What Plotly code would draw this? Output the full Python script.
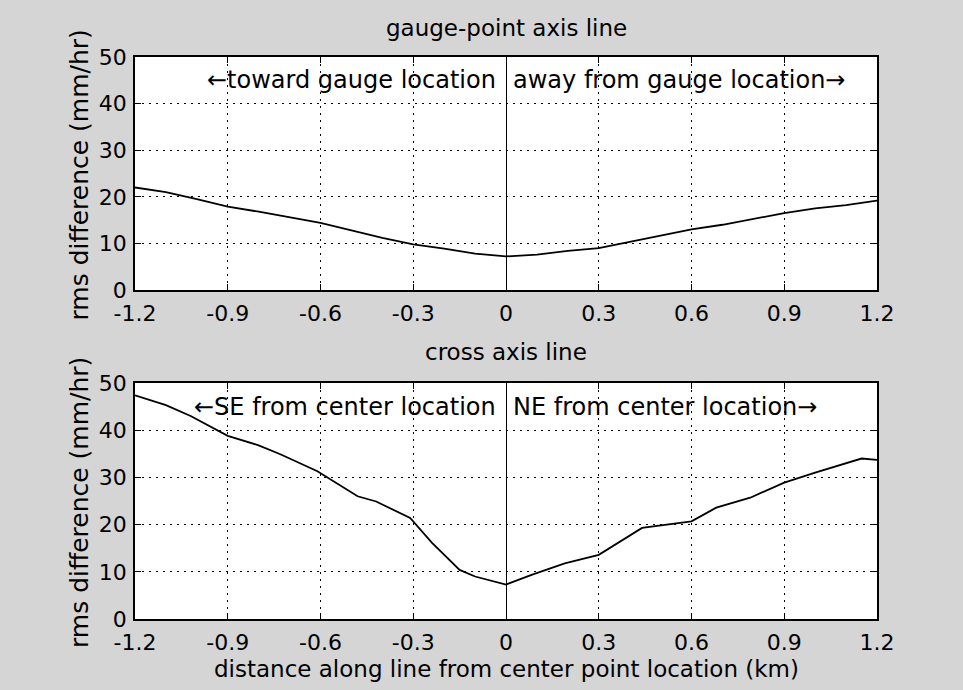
import plotly.graph_objects as go

W, H = 963, 690

# ---- data ----
x_top = [-1.2, -1.1, -1.0, -0.9, -0.8, -0.7, -0.6, -0.5, -0.4, -0.3, -0.2, -0.1, 0.0,
         0.1, 0.2, 0.3, 0.4, 0.5, 0.6, 0.7, 0.8, 0.9, 1.0, 1.1, 1.2]
y_top = [22.0, 21.0, 19.5, 17.9, 16.8, 15.6, 14.4, 12.8, 11.2, 9.8, 8.9, 7.8, 7.2,
         7.6, 8.4, 9.0, 10.3, 11.6, 13.0, 14.0, 15.2, 16.5, 17.5, 18.2, 19.2]

x_bot = [-1.2, -1.1, -1.02, -0.9, -0.8, -0.73, -0.61, -0.48, -0.42, -0.31, -0.24, -0.15,
         -0.1, -0.02, 0.0, 0.085, 0.19, 0.3, 0.36, 0.44, 0.6, 0.68, 0.79, 0.9, 1.0,
         1.15, 1.2]
y_bot = [47.4, 45.3, 43.0, 38.8, 36.8, 34.9, 31.3, 26.0, 24.9, 21.4, 16.2, 10.4,
         9.0, 7.6, 7.3, 9.4, 11.8, 13.6, 16.1, 19.3, 20.7, 23.6, 25.7, 28.9, 31.0,
         34.0, 33.7]

x_ticks = [-1.2, -0.9, -0.6, -0.3, 0, 0.3, 0.6, 0.9, 1.2]
x_tick_labels = ["-1.2", "-0.9", "-0.6", "-0.3", "0", "0.3", "0.6", "0.9", "1.2"]
y_ticks = [0, 10, 20, 30, 40, 50]
y_tick_labels = ["0", "10", "20", "30", "40", "50"]

titles = ["gauge-point axis line", "cross axis line"]
ylabel = "rms difference (mm/hr)"
xlabel = "distance along line from center point location (km)"
notes_left = ["\u2190toward gauge location", "\u2190SE from center location"]
notes_right = ["away from gauge location\u2192", "NE from center location\u2192"]

FONT = "DejaVu Sans"

def px_x(p):
    return p / W

def px_y(p):
    return 1 - p / H

# plot boxes in pixels
L, R = 135, 877
boxes = [(57, 290), (383, 619)]

fig = go.Figure()
fig.add_trace(go.Scatter(x=x_top, y=y_top, mode="lines",
                         line=dict(color="black", width=1.8), xaxis="x", yaxis="y",
                         showlegend=False))
fig.add_trace(go.Scatter(x=x_bot, y=y_bot, mode="lines",
                         line=dict(color="black", width=1.8), xaxis="x2", yaxis="y2",
                         showlegend=False))

def xax(anchor, dom):
    return dict(domain=dom, anchor=anchor, range=[-1.2, 1.2], automargin=False,
                tickvals=x_ticks, ticktext=x_tick_labels,
                ticks="inside", ticklen=6, tickcolor="black",
                showline=True, linecolor="black", linewidth=1.5, mirror="allticks",
                showgrid=True, gridcolor="black", gridwidth=1, griddash="2px,5px",
                zeroline=True, zerolinecolor="black", zerolinewidth=1.2,
                tickfont=dict(family=FONT, size=22, color="black"),
                ticklabelstandoff=3, fixedrange=True)

def yax(anchor, dom):
    return dict(domain=dom, anchor=anchor, range=[0, 50], automargin=False,
                tickvals=y_ticks, ticktext=y_tick_labels,
                ticks="inside", ticklen=6, tickcolor="black",
                showline=True, linecolor="black", linewidth=1.5, mirror="allticks",
                showgrid=True, gridcolor="black", gridwidth=1, griddash="2px,5px",
                zeroline=False,
                tickfont=dict(family=FONT, size=22, color="black"),
                ticklabelstandoff=2, fixedrange=True)

xd = [px_x(L), px_x(R)]
fig.update_layout(
    width=W, height=H,
    margin=dict(l=0, r=0, t=0, b=0, autoexpand=False),
    paper_bgcolor="#d5d5d5",
    plot_bgcolor="white",
    xaxis=xax("y", xd),
    yaxis=yax("x", [px_y(boxes[0][1]), px_y(boxes[0][0])]),
    xaxis2=xax("y2", xd),
    yaxis2=yax("x2", [px_y(boxes[1][1]), px_y(boxes[1][0])]),
    showlegend=False,
)

ann = []
title_y = [28, 352]
for i, (top, bot) in enumerate(boxes):
    ann.append(dict(text=titles[i], x=px_x(506), y=px_y(title_y[i]), xref="paper", yref="paper",
                    xanchor="center", yanchor="middle", showarrow=False,
                    font=dict(family=FONT, size=23, color="black")))
    ann.append(dict(text=ylabel, x=px_x(79), y=px_y((top + bot) / 2 + 2), xref="paper", yref="paper",
                    xanchor="center", yanchor="middle", showarrow=False, textangle=-90,
                    font=dict(family=FONT, size=25, color="black")))
    xr = "x" if i == 0 else "x2"
    yr = "y" if i == 0 else "y2"
    ann.append(dict(text=notes_left[i], x=-0.025, y=45, xref=xr, yref=yr,
                    xanchor="right", yanchor="middle", showarrow=False,
                    font=dict(family=FONT, size=24, color="black")))
    ann.append(dict(text=notes_right[i], x=0.015, y=45, xref=xr, yref=yr,
                    xanchor="left", yanchor="middle", showarrow=False,
                    font=dict(family=FONT, size=24, color="black")))
ann.append(dict(text=xlabel, x=px_x(506), y=px_y(669), xref="paper", yref="paper",
                xanchor="center", yanchor="middle", showarrow=False,
                font=dict(family=FONT, size=23, color="black")))
fig.update_layout(annotations=ann)

fig.write_html("out.html")
